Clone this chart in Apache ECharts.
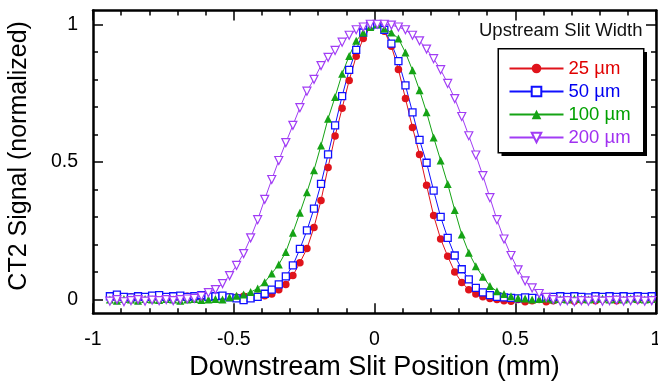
<!DOCTYPE html>
<html>
<head>
<meta charset="utf-8">
<script src="https://cdn.jsdelivr.net/npm/echarts@6/dist/echarts.min.js"></script>
<style>
html,body{margin:0;padding:0;background:#fff;}
#chart{width:658px;height:382px;}
</style>
</head>
<body>
<div id="chart"></div>
<script>
// Downstream slit positions (mm)
var positions = [-0.94,-0.915,-0.89,-0.865,-0.84,-0.815,-0.79,-0.765,-0.74,-0.715,-0.69,-0.665,-0.64,-0.615,-0.59,-0.565,-0.54,-0.515,-0.49,-0.465,-0.44,-0.415,-0.39,-0.365,-0.34,-0.315,-0.29,-0.265,-0.24,-0.215,-0.19,-0.165,-0.14,-0.115,-0.09,-0.065,-0.04,-0.015,0.01,0.035,0.06,0.085,0.11,0.135,0.16,0.185,0.21,0.235,0.26,0.285,0.31,0.335,0.36,0.385,0.41,0.435,0.46,0.485,0.51,0.535,0.56,0.585,0.61,0.635,0.66,0.685,0.71,0.735,0.76,0.785,0.81,0.835,0.86,0.885,0.91,0.935,0.96,0.985];

var seriesNames = ['25 \u00b5m', '50 \u00b5m', '100 \u00b5m', '200 \u00b5m'];

var signal25 = [0.008,0.012,0.008,0.01,0.012,0.008,0.012,0.01,0.008,0.012,0.01,0.012,0.008,0.01,0.012,0.008,0.012,0.01,0.008,0.012,0.01,0.012,0.014,
  0.02,0.036,0.055,0.087,0.134,0.185,0.262,0.36,0.48,0.594,0.695,0.796,0.884,0.948,0.99,1.0,0.975,0.92,0.836,0.73,0.625,0.527,0.415,0.305,0.22,0.157,0.10,0.062,0.036,0.02,0.01,
  0.004,0.0,-0.004,-0.006,0.0,-0.008,-0.004,0.0,-0.008,-0.004,0.004,0.0,-0.006,-0.002,0.004,-0.004,0.0,0.004,-0.004,0.002,0.006,-0.002,0.004,0.0];

var signal50 = [0.012,0.018,0.01,0.008,0.012,0.01,0.014,0.016,0.01,0.012,0.014,0.01,0.012,0.016,0.01,0.012,0.014,0.008,0.004,
  -0.002,0.004,0.01,0.021,0.036,0.055,0.084,0.124,0.184,0.251,0.33,0.42,0.527,0.633,0.739,0.834,0.907,0.97,0.995,1.0,0.98,0.93,0.866,0.778,0.68,0.58,0.497,0.396,0.30,0.224,0.16,0.11,0.073,0.042,0.026,0.016,0.01,
  0.008,0.006,0.004,0.008,0.006,0.004,0.008,0.01,0.012,0.01,0.012,0.01,0.008,0.012,0.01,0.012,0.01,0.012,0.01,0.012,0.01,0.012];

var signal100 = [0.0,-0.004,0.002,0.0,-0.004,0.002,0.0,-0.002,0.002,0.0,-0.004,0.0,0.002,-0.002,0.0,0.002,0.0,
  0.008,0.014,0.018,0.027,0.04,0.063,0.095,0.127,0.173,0.243,0.315,0.39,0.47,0.56,0.657,0.736,0.82,0.885,0.94,0.97,0.99,1.0,0.985,0.97,0.948,0.897,0.833,0.76,0.68,0.589,0.505,0.42,0.325,0.236,0.17,0.121,0.083,0.049,0.03,0.02,0.012,0.006,
  0.004,0.0,0.002,0.004,0.0,0.002,0.0,0.004,0.002,0.0,0.002,0.004,0.0,0.002,0.0,0.004,0.002,0.0,0.002];

var signal200 = [-0.006,0.0,-0.008,-0.004,0.0,-0.006,-0.002,-0.004,0.0,-0.004,0.0,0.002,0.004,
  0.012,0.025,0.036,0.058,0.087,0.124,0.167,0.224,0.29,0.364,0.436,0.505,0.57,0.633,0.697,0.757,0.80,0.85,0.88,0.905,0.935,0.96,0.98,0.99,1.0,1.0,1.0,0.997,0.99,0.98,0.96,0.94,0.91,0.875,0.835,0.785,0.73,0.665,0.595,0.525,0.45,0.37,0.29,0.22,0.16,0.108,0.068,0.042,0.022,0.008,
  0.0,-0.006,-0.004,-0.008,-0.004,-0.006,-0.002,-0.006,-0.004,-0.002,-0.006,-0.004,-0.002,-0.006,-0.004];

var yMajorTicks = [0, 0.5, 1];
var yMinorTicks = [0, 0.1, 0.2, 0.3, 0.4, 0.5, 0.6, 0.7, 0.8, 0.9, 1.0];

function pairs(ys) { return positions.map(function (x, i) { return [x, ys[i]]; }); }

var FONT = 'Liberation Sans, Arial, Helvetica, sans-serif';
var lineColors = ['#e0131b', '#1010ff', '#15a315', '#a13cf5'];
var textColors = ['#e00000', '#0000f0', '#00a000', '#a030f0'];

var axisLine = { show: true, onZero: false, lineStyle: { color: '#000', width: 2.5 } };
var noLine = { show: false, onZero: false };

var chart = echarts.init(document.getElementById('chart'), null, { renderer: 'canvas' });

var option = {
  animation: false,
  backgroundColor: '#fff',
  textStyle: { fontFamily: FONT },
  grid: { left: 93, right: 2, top: 10.5, bottom: 68.7, containLabel: false, outerBoundsMode: 'none' },
  title: {
    text: 'Upstream Slit Width',
    left: 479, top: 21,
    padding: 0,
    textStyle: { fontFamily: FONT, fontSize: 18.5, fontWeight: 'normal', color: '#111' }
  },
  graphic: {
    elements: [
      {
        type: 'rect', z: 100, zlevel: 0, silent: true,
        left: 501.5, top: 52,
        shape: { width: 145.5, height: 104 },
        style: { fill: '#000' }
      },
      {
        type: 'rect', z: 101, zlevel: 0, silent: true,
        left: 497.5, top: 48,
        shape: { width: 145.5, height: 104 },
        style: { fill: '#fff', stroke: '#000', lineWidth: 1.5 }
      }
    ]
  },
  legend: {
    z: 200,
    orient: 'vertical',
    left: 497.5, top: 48,
    padding: [11, 15, 6, 11],
    itemGap: 4,
    itemWidth: 54,
    itemHeight: 12,
    backgroundColor: 'transparent',
    borderWidth: 0,
    textStyle: { fontFamily: FONT, fontSize: 18.5, lineHeight: 18 },
    data: seriesNames.map(function (n, i) { return { name: n, textStyle: { color: textColors[i] } }; })
  },
  xAxis: [
    {
      type: 'value', min: -1, max: 1, interval: 0.5, position: 'bottom',
      axisLine: axisLine,
      axisTick: { inside: true, length: 10, lineStyle: { color: '#000', width: 1.5 } },
      minorTick: { show: true, splitNumber: 5, length: 5, lineStyle: { color: '#000', width: 1.5 } },
      axisLabel: { fontFamily: FONT, fontSize: 19.5, color: '#000', margin: 16 },
      splitLine: { show: false },
      name: 'Downstream Slit Position (mm)', nameLocation: 'middle', nameGap: 39,
      nameTextStyle: { fontFamily: FONT, fontSize: 27, color: '#000' }
    },
    {
      type: 'value', min: -1, max: 1, interval: 0.5, position: 'top',
      axisLine: axisLine,
      axisTick: { inside: true, length: 10, lineStyle: { color: '#000', width: 1.5 } },
      minorTick: { show: true, splitNumber: 5, length: 5, lineStyle: { color: '#000', width: 1.5 } },
      axisLabel: { show: false },
      splitLine: { show: false }
    }
  ],
  yAxis: [
    {
      type: 'value', min: -0.05, max: 1.05, position: 'left',
      axisLine: axisLine,
      axisTick: { inside: true, length: 10, customValues: yMajorTicks, lineStyle: { color: '#000', width: 1.5 } },
      axisLabel: { fontFamily: FONT, fontSize: 19.5, color: '#000', margin: 15, padding: [4, 0, 0, 0], customValues: yMajorTicks },
      splitLine: { show: false },
      name: 'CT2 Signal (normalized)', nameLocation: 'middle', nameGap: 61, nameRotate: 90,
      nameTextStyle: { fontFamily: FONT, fontSize: 25, color: '#000', padding: [0, 0, 0, 12] }
    },
    {
      type: 'value', min: -0.05, max: 1.05, position: 'right',
      axisLine: axisLine,
      axisTick: { inside: true, length: 10, customValues: yMajorTicks, lineStyle: { color: '#000', width: 1.5 } },
      axisLabel: { show: false, customValues: yMajorTicks },
      splitLine: { show: false }
    },
    {
      type: 'value', min: -0.05, max: 1.05, position: 'left',
      axisLine: noLine,
      axisTick: { inside: true, length: 5, customValues: yMinorTicks, lineStyle: { color: '#000', width: 1.5 } },
      axisLabel: { show: false, customValues: yMinorTicks },
      splitLine: { show: false }
    },
    {
      type: 'value', min: -0.05, max: 1.05, position: 'right',
      axisLine: noLine,
      axisTick: { inside: true, length: 5, customValues: yMinorTicks, lineStyle: { color: '#000', width: 1.5 } },
      axisLabel: { show: false, customValues: yMinorTicks },
      splitLine: { show: false }
    }
  ],
  series: [
    {
      name: seriesNames[0], type: 'line', data: pairs(signal25),
      symbol: 'circle', symbolSize: 7.5,
      lineStyle: { color: lineColors[0], width: 1 },
      itemStyle: { color: lineColors[0], borderWidth: 0 },
      emphasis: { disabled: true }
    },
    {
      name: seriesNames[1], type: 'line', data: pairs(signal50),
      symbol: 'rect', symbolSize: 7,
      lineStyle: { color: lineColors[1], width: 1 },
      itemStyle: { color: '#fff', borderColor: lineColors[1], borderWidth: 1.3 },
      emphasis: { disabled: true }
    },
    {
      name: seriesNames[2], type: 'line', data: pairs(signal100),
      symbol: 'triangle', symbolSize: 8,
      lineStyle: { color: lineColors[2], width: 1 },
      itemStyle: { color: lineColors[2], borderWidth: 0 },
      emphasis: { disabled: true }
    },
    {
      name: seriesNames[3], type: 'line', data: pairs(signal200),
      symbol: 'triangle', symbolRotate: 180, symbolSize: 8,
      lineStyle: { color: lineColors[3], width: 1 },
      itemStyle: { color: '#fff', borderColor: lineColors[3], borderWidth: 1.2 },
      emphasis: { disabled: true }
    }
  ]
};
chart.setOption(option);
</script>
</body>
</html>
